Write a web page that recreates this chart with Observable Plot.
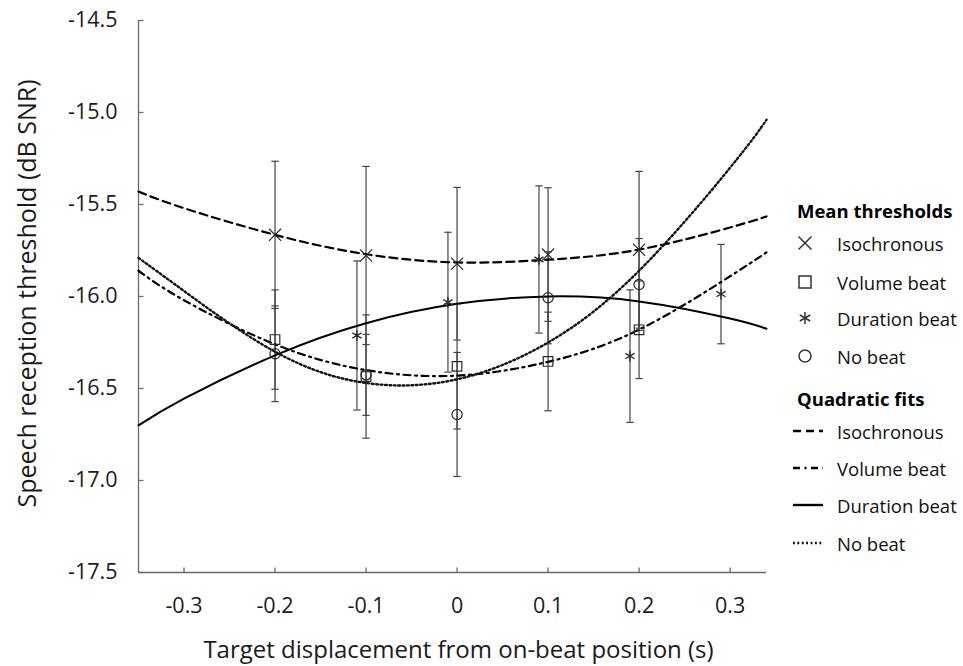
<!DOCTYPE html>
<html>
<head>
<meta charset="utf-8">
<script src="https://cdn.jsdelivr.net/npm/d3@7"></script>
<script src="https://cdn.jsdelivr.net/npm/@observablehq/plot@0.6"></script>
<style>
  body { margin: 0; background: #fff; font-family: "Open Sans", sans-serif; }
  #wrap { position: relative; width: 963px; height: 666px; }
  .lg { position: absolute; display: flex; align-items: center; height: 30px; font-size: 18.5px; color: #111; white-space: nowrap; }
  .lg svg { flex: none; }
  .lgh { position: absolute; height: 30px; line-height: 30px; font-size: 18.5px; font-weight: bold; color: #000; white-space: nowrap; }
</style>
</head>
<body>
<div id="wrap"></div>
<script>
// ---------- data ----------
const seriesNames = ["Isochronous", "Volume beat", "Duration beat", "No beat"];
const xTitle = "Target displacement from on-beat position (s)";
const yTitle = "Speech reception threshold (dB SNR)";
const legendTitles = ["Mean thresholds", "Quadratic fits"];

const xTicks = [-0.3, -0.2, -0.1, 0, 0.1, 0.2, 0.3];
const yTicks = [-17.5, -17.0, -16.5, -16.0, -15.5, -15.0, -14.5];
const xDomain = [-0.35, 0.34];
const yDomain = [-17.5, -14.5];

// mean thresholds (x positions)
const xMain = [-0.2, -0.1, 0, 0.1, 0.2];
const xDur = [-0.11, -0.01, 0.09, 0.19, 0.29];

const isoMean = [-15.665, -15.777, -15.822, -15.772, -15.746];
const isoErr  = [0.40, 0.484, 0.415, 0.363, 0.426];
const volMean = [-16.234, -16.435, -16.38, -16.353, -16.181];
const volErr  = [0.27, 0.335, 0.34, 0.268, 0.265];
const durMean = [-16.212, -16.031, -15.799, -16.324, -15.987];
const durErr  = [0.405, 0.38, 0.40, 0.36, 0.27];
const noMean  = [-16.311, -16.426, -16.641, -16.007, -15.935];
const noErr   = [0.26, 0.22, 0.337, 0.25, 0.25];

// quadratic fit curves
const fitX   = [-0.35, -0.3, -0.2, -0.1, 0, 0.1, 0.2, 0.3, 0.34];
const isoFit = [-15.43, -15.52, -15.665, -15.77, -15.815, -15.80, -15.745, -15.625, -15.565];
const volFit = [-15.86, -16.02, -16.26, -16.40, -16.43, -16.355, -16.18, -15.89, -15.76];
const durFit = [-16.70, -16.555, -16.32, -16.145, -16.04, -16.0, -16.027, -16.12, -16.175];
const noFit  = [-15.79, -15.97, -16.30, -16.47, -16.45, -16.25, -15.86, -15.30, -15.04];

// ---------- build tables ----------
const pts = (xs, ms, es) => xs.map((x, i) => ({x, y: ms[i], lo: ms[i] - es[i], hi: ms[i] + es[i]}));
const isoPts = pts(xMain, isoMean, isoErr);
const volPts = pts(xMain, volMean, volErr);
const durPts = pts(xDur, durMean, durErr);
const noPts  = pts(xMain, noMean, noErr);
const allPts = [...isoPts, ...volPts, ...durPts, ...noPts];
const caps = allPts.flatMap(d => [{x: d.x, y: d.lo}, {x: d.x, y: d.hi}]);
const fit = ys => fitX.map((x, i) => ({x, y: ys[i]}));

const capSymbol = {draw(ctx) { ctx.moveTo(-3.7, 0); ctx.lineTo(3.7, 0); }};
const tickRight = {draw(ctx) { ctx.moveTo(0, 0); ctx.lineTo(5, 0); }};
const tickUp    = {draw(ctx) { ctx.moveTo(0, 0); ctx.lineTo(0, -5); }};

const axisColor = "#6a6a6a";
const barColor = "#444";
const markColor = "#2a2a2a";

const dashIso = "8,5";
const dashVol = "7,4.5,2,4.5";
const dashNo = "1.8,2.6";

const chart = Plot.plot({
  width: 963,
  height: 666,
  marginLeft: 138,
  marginRight: 197,
  marginTop: 20,
  marginBottom: 94,
  style: {fontFamily: "Open Sans, sans-serif", fontSize: "21.5px", color: "#1a1a1a", background: "#fff"},
  x: {domain: xDomain},
  y: {domain: yDomain},
  marks: [
    // axes
    Plot.ruleX([xDomain[0]], {stroke: axisColor, strokeWidth: 1.3}),
    Plot.ruleY([yDomain[0]], {stroke: axisColor, strokeWidth: 1.3}),
    Plot.dot(yTicks, {y: d => d, frameAnchor: "left", symbol: tickRight, stroke: axisColor, strokeWidth: 1.3, fill: "none"}),
    Plot.dot(xTicks, {x: d => d, frameAnchor: "bottom", symbol: tickUp, stroke: axisColor, strokeWidth: 1.3, fill: "none"}),
    Plot.axisY({ticks: yTicks, tickSize: 0, tickPadding: 21, tickFormat: d => d.toFixed(1), label: null, fontSize: 21.5}),
    Plot.axisX({ticks: xTicks, tickSize: 0, tickPadding: 25, tickFormat: d => (d === 0 ? "0" : d.toFixed(1)), label: null, fontSize: 21.5}),
    Plot.text([xTitle], {frameAnchor: "bottom", dy: 78, dx: 6, fontSize: 24, textAnchor: "middle", lineAnchor: "middle", fill: "#1a1a1a"}),
    Plot.text([yTitle], {frameAnchor: "left", dx: -111, dy: -3, rotate: -90, fontSize: 25, textAnchor: "middle", lineAnchor: "middle", fill: "#1a1a1a"}),
    // error bars
    Plot.ruleX(allPts, {x: "x", y1: "lo", y2: "hi", stroke: barColor, strokeWidth: 1.2}),
    Plot.dot(caps, {x: "x", y: "y", symbol: capSymbol, stroke: barColor, strokeWidth: 1.2, fill: "none"}),
    // fits
    Plot.line(fit(isoFit), {x: "x", y: "y", curve: "natural", stroke: "#000", strokeWidth: 2.2, strokeDasharray: dashIso}),
    Plot.line(fit(volFit), {x: "x", y: "y", curve: "natural", stroke: "#000", strokeWidth: 2.2, strokeDasharray: dashVol}),
    Plot.line(fit(durFit), {x: "x", y: "y", curve: "natural", stroke: "#000", strokeWidth: 2}),
    Plot.line(fit(noFit),  {x: "x", y: "y", curve: "natural", stroke: "#111", strokeWidth: 2.4, strokeDasharray: dashNo}),
    // markers
    Plot.dot(isoPts, {x: "x", y: "y", symbol: "times", r: 5.6, stroke: markColor, strokeWidth: 1.2, fill: "none"}),
    Plot.dot(volPts, {x: "x", y: "y", symbol: "square", r: 5.4, stroke: markColor, strokeWidth: 1.2, fill: "none"}),
    Plot.dot(durPts, {x: "x", y: "y", symbol: "asterisk", r: 5, stroke: markColor, strokeWidth: 1.4, fill: "none"}),
    Plot.dot(noPts,  {x: "x", y: "y", symbol: "circle", r: 5.1, stroke: markColor, strokeWidth: 1.2, fill: "none"})
  ]
});

const wrap = document.getElementById("wrap");
wrap.appendChild(chart);

// ---------- legend (HTML overlay on the right) ----------
const symTypes = [d3.symbolTimes, d3.symbolSquare, d3.symbolAsterisk, d3.symbolCircle];
const symSizes = [112, 144, 101, 113];
const lineDash = [dashIso, dashVol, null, dashNo];
const symRowsY = [243, 282, 318, 356];
const lineRowsY = [431, 468, 505, 543];
const headY = [211, 399];

function addHead(text, cy) {
  const d = document.createElement("div");
  d.className = "lgh";
  d.style.left = "797px";
  d.style.top = (cy - 15) + "px";
  d.textContent = text;
  wrap.appendChild(d);
}
function addRow(svgInner, text, cy) {
  const d = document.createElement("div");
  d.className = "lg";
  d.style.left = "790px";
  d.style.top = (cy - 15) + "px";
  d.innerHTML = `<svg width="47" height="30" viewBox="0 0 47 30">${svgInner}</svg><span>${text}</span>`;
  wrap.appendChild(d);
}
addHead(legendTitles[0], headY[0]);
seriesNames.forEach((name, i) => {
  const p = d3.symbol(symTypes[i], symSizes[i])();
  addRow(`<path d="${p}" transform="translate(15,15)" fill="none" stroke="#333" stroke-width="1.5"/>`, name, symRowsY[i]);
});
addHead(legendTitles[1], headY[1]);
seriesNames.forEach((name, i) => {
  const dash = lineDash[i] ? `stroke-dasharray="${lineDash[i]}"` : "";
  const w = i === 3 ? 2.6 : 2.4;
  addRow(`<line x1="3" x2="33" y1="15" y2="15" stroke="#000" stroke-width="${w}" ${dash}/>`, name, lineRowsY[i]);
});
</script>
</body>
</html>
